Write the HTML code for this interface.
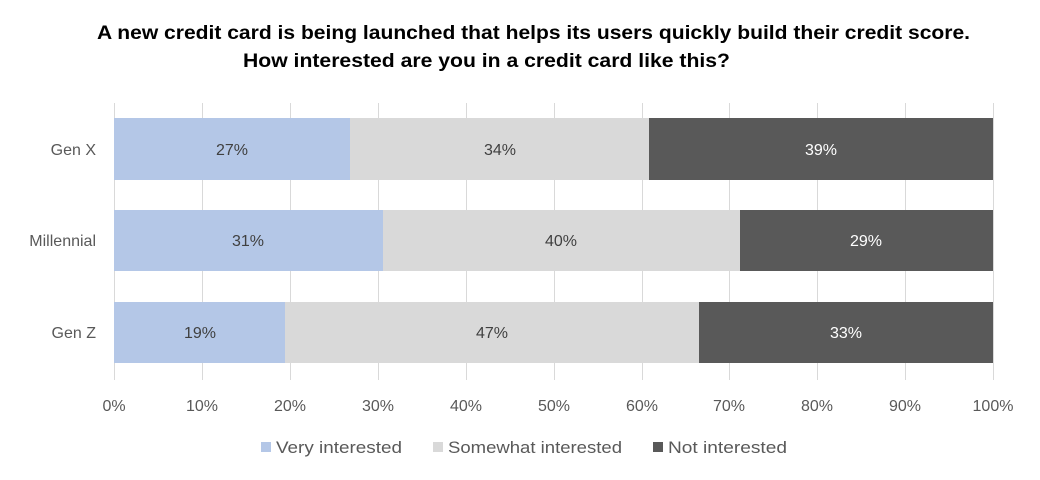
<!DOCTYPE html>
<html><head><meta charset="utf-8"><style>body{margin:0;background:#fff}svg{display:block}text{font-family:"Liberation Sans",sans-serif}</style></head>
<body>
<svg width="1040" height="480" xmlns="http://www.w3.org/2000/svg">
<rect width="1040" height="480" fill="#fff"/>
<text x="97" y="39" font-size="19" font-weight="bold" fill="#000" textLength="873" lengthAdjust="spacingAndGlyphs">A new credit card is being launched that helps its users quickly build their credit score.</text>
<text x="243" y="67" font-size="19" font-weight="bold" fill="#000" textLength="487" lengthAdjust="spacingAndGlyphs">How interested are you in a credit card like this?</text>
<g stroke="#d9d9d9" stroke-width="1">
<line x1="114.5" y1="103" x2="114.5" y2="380"/><line x1="202.5" y1="103" x2="202.5" y2="380"/><line x1="290.5" y1="103" x2="290.5" y2="380"/><line x1="378.5" y1="103" x2="378.5" y2="380"/><line x1="466.5" y1="103" x2="466.5" y2="380"/><line x1="554.5" y1="103" x2="554.5" y2="380"/><line x1="642.5" y1="103" x2="642.5" y2="380"/><line x1="729.5" y1="103" x2="729.5" y2="380"/><line x1="817.5" y1="103" x2="817.5" y2="380"/><line x1="905.5" y1="103" x2="905.5" y2="380"/><line x1="993.5" y1="103" x2="993.5" y2="380"/>
</g>
<rect x="114" y="118" width="236" height="62" fill="#b4c7e7"/><rect x="350" y="118" width="299" height="62" fill="#d9d9d9"/><rect x="649" y="118" width="344" height="62" fill="#595959"/>
<rect x="114" y="210" width="269" height="61" fill="#b4c7e7"/><rect x="383" y="210" width="357" height="61" fill="#d9d9d9"/><rect x="740" y="210" width="253" height="61" fill="#595959"/>
<rect x="114" y="302" width="171" height="61" fill="#b4c7e7"/><rect x="285" y="302" width="414" height="61" fill="#d9d9d9"/><rect x="699" y="302" width="294" height="61" fill="#595959"/>
<g font-size="16" text-anchor="middle" fill="#404040">
<text x="232" y="155">27%</text><text x="500" y="155">34%</text><text x="821" y="155" fill="#fff">39%</text>
<text x="248" y="246">31%</text><text x="561" y="246">40%</text><text x="866" y="246" fill="#fff">29%</text>
<text x="200" y="338">19%</text><text x="492" y="338">47%</text><text x="846" y="338" fill="#fff">33%</text>
</g>
<g font-size="16" text-anchor="end" fill="#595959">
<text x="96" y="155">Gen X</text><text x="96" y="246">Millennial</text><text x="96" y="338">Gen Z</text>
</g>
<g font-size="16" text-anchor="middle" fill="#595959">
<text x="114" y="411">0%</text><text x="202" y="411">10%</text><text x="290" y="411">20%</text><text x="378" y="411">30%</text><text x="466" y="411">40%</text><text x="554" y="411">50%</text><text x="642" y="411">60%</text><text x="729" y="411">70%</text><text x="817" y="411">80%</text><text x="905" y="411">90%</text><text x="993" y="411">100%</text>
</g>
<rect x="261" y="442" width="10" height="10" fill="#b4c7e7"/>
<rect x="433" y="442" width="10" height="10" fill="#d9d9d9"/>
<rect x="653" y="442" width="10" height="10" fill="#595959"/>
<g font-size="17" fill="#595959">
<text x="276" y="453" textLength="126" lengthAdjust="spacingAndGlyphs">Very interested</text><text x="448" y="453" textLength="174" lengthAdjust="spacingAndGlyphs">Somewhat interested</text><text x="668" y="453" textLength="119" lengthAdjust="spacingAndGlyphs">Not interested</text>
</g>
</svg>
</body></html>
